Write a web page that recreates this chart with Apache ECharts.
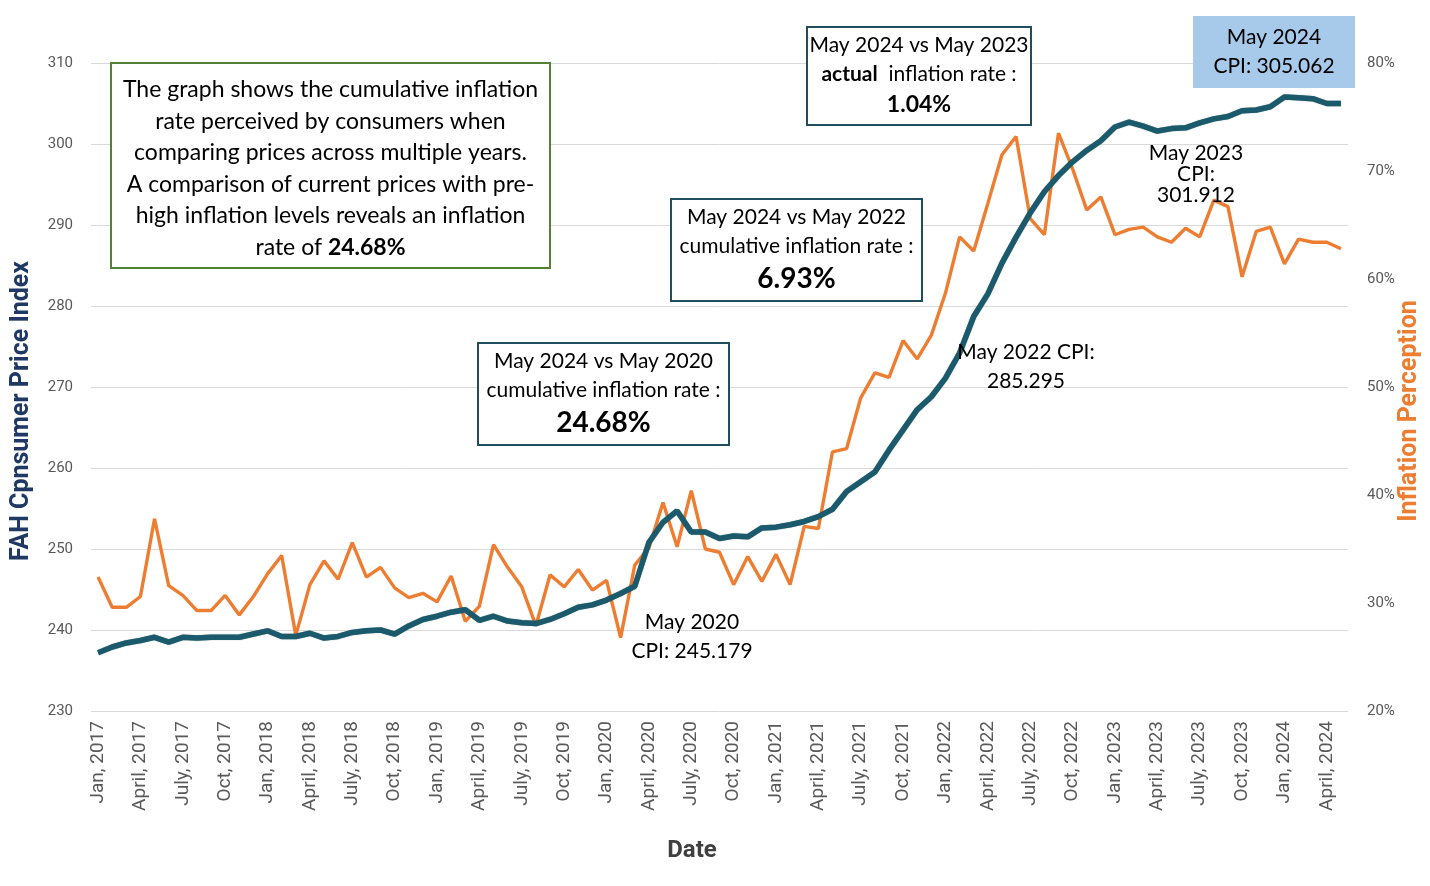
<!DOCTYPE html>
<html>
<head>
<meta charset="utf-8">
<script src="https://cdn.jsdelivr.net/npm/echarts@6/dist/echarts.min.js"></script>
<style>
  html, body { margin: 0; padding: 0; background: #fff; }
  #main { width: 1430px; height: 886px; }
</style>
</head>
<body>
<div id="main"></div>
<script>
// months shown on the axis, Jan 2017 .. May 2024
var monthNames = ['Jan', 'Feb', 'Mar', 'April', 'May', 'June', 'July', 'Aug', 'Sep', 'Oct', 'Nov', 'Dec'];
var startYear = 2017;
var monthCount = 89;

// FAH CPI (left axis)
var cpiValues = [
  237.2, 237.9, 238.4, 238.7, 239.1, 238.5, 239.1, 239.0, 239.1, 239.1, 239.1, 239.5,
  239.9, 239.2, 239.2, 239.6, 239.0, 239.2, 239.7, 239.9, 240.0, 239.5, 240.5, 241.3,
  241.7, 242.2, 242.5, 241.2, 241.7, 241.1, 240.9, 240.8, 241.3, 242.0, 242.8, 243.1,
  243.7, 244.5, 245.4, 250.8, 253.3, 254.7, 252.1, 252.1, 251.3, 251.6, 251.5, 252.6,
  252.7, 253.0, 253.4, 254.0, 254.9, 257.1, 258.3, 259.5, 262.2, 264.7, 267.2, 268.8,
  271.1, 274.2, 278.7, 281.5, 285.3, 288.5, 291.5, 294.1, 296.1, 297.8, 299.2, 300.4,
  302.1, 302.7, 302.2, 301.6, 301.9, 302.0, 302.6, 303.1, 303.4, 304.1, 304.2, 304.6,
  305.8, 305.7, 305.6, 305.0, 305.0
];

// inflation perception in % (right axis)
var perceptionValues = [
  32.4, 29.6, 29.6, 30.6, 37.8, 31.6, 30.7, 29.3, 29.3, 30.7, 28.9, 30.6,
  32.7, 34.4, 27.0, 31.7, 33.9, 32.2, 35.6, 32.4, 33.3, 31.4, 30.5, 30.9,
  30.1, 32.5, 28.3, 29.7, 35.4, 33.3, 31.5, 27.9, 32.6, 31.5, 33.1, 31.2,
  32.1, 26.8, 33.5, 35.1, 39.3, 35.2, 40.4, 35.0, 34.7, 31.7, 34.3, 32.0,
  34.5, 31.7, 37.1, 36.9, 44.0, 44.3, 49.0, 51.3, 50.9, 54.3, 52.6, 54.8,
  58.7, 63.9, 62.6, 67.0, 71.5, 73.2, 65.6, 64.1, 73.5, 70.2, 66.4, 67.6,
  64.1, 64.6, 64.8, 63.9, 63.4, 64.7, 63.9, 67.3, 66.7, 60.2, 64.4, 64.8,
  61.4, 63.7, 63.4, 63.4, 62.8
];

// axis ticks
var cpiTicks = { min: 230, max: 310, step: 10 };
var pctTicks = { min: 20, max: 80, step: 10 };

var categories = [];
for (var i = 0; i < monthCount; i++) {
  categories.push(monthNames[i % 12] + ', ' + (startYear + Math.floor(i / 12)));
}

var chart = echarts.init(document.getElementById('main'));

var txtFont = 'Lato, "Open Sans", sans-serif';
var axisFont = 'Roboto, sans-serif';

// bordered note box
function noteBox(x, y, w, h, stroke, fill, text, rich, dy) {
  return {
    type: 'group',
    left: x, top: y,
    z: 100,
    children: [
      {
        type: 'rect',
        z: 100,
        shape: { x: 0, y: 0, width: w, height: h },
        style: { fill: fill, stroke: stroke, lineWidth: stroke ? 2 : 0 }
      },
      {
        type: 'text',
        z: 101,
        x: w / 2, y: h / 2 + (dy || 0),
        style: {
          text: text,
          rich: rich,
          align: 'center',
          verticalAlign: 'middle',
          fill: '#000'
        }
      }
    ]
  };
}

// free text label
function note(x, y, text, rich) {
  return {
    type: 'text',
    z: 101,
    x: x, y: y,
    style: { text: text, rich: rich, align: 'center', verticalAlign: 'middle', fill: '#000' }
  };
}

var richBase = {
  n: { fontSize: 21, fontFamily: txtFont, lineHeight: 29, fill: '#000' },
  b: { fontSize: 21, fontFamily: txtFont, fontWeight: 'bold', lineHeight: 29, fill: '#000' },
  m: { fontSize: 23, fontFamily: txtFont, fontWeight: 'bold', lineHeight: 32, fill: '#000' },
  big: { fontSize: 28, fontFamily: txtFont, fontWeight: 'bold', lineHeight: 36, fill: '#000' }
};

var richIntro = {
  n: { fontSize: 23, fontFamily: txtFont, lineHeight: 31.5, fill: '#000' },
  b: { fontSize: 23, fontFamily: txtFont, fontWeight: 'bold', lineHeight: 31.5, fill: '#000' }
};

var plainRich = {
  n: { fontSize: 21, fontFamily: txtFont, lineHeight: 29, fill: '#000' },
  t: { fontSize: 21, fontFamily: txtFont, lineHeight: 21, fill: '#000' }
};

var option = {
  animation: false,
  backgroundColor: '#fff',
  grid: { left: 91, right: 82, top: 63, bottom: 175 },
  xAxis: {
    type: 'category',
    data: categories,
    boundaryGap: true,
    axisLine: { show: false },
    axisTick: { show: false },
    axisLabel: {
      interval: 2,
      rotate: 90,
      fontSize: 19,
      color: '#595959',
      fontFamily: axisFont,
      margin: 10
    },
    splitLine: { show: false }
  },
  yAxis: [
    {
      type: 'value',
      min: cpiTicks.min, max: cpiTicks.max, interval: cpiTicks.step,
      axisLine: { show: false },
      axisTick: { show: false },
      axisLabel: { fontSize: 15, color: '#595959', margin: 18, fontFamily: axisFont },
      splitLine: { lineStyle: { color: '#d9d9d9', width: 1 } }
    },
    {
      type: 'value',
      position: 'right',
      min: pctTicks.min, max: pctTicks.max, interval: pctTicks.step,
      axisLine: { show: false },
      axisTick: { show: false },
      axisLabel: { fontSize: 15, color: '#595959', margin: 19, formatter: '{value}%', fontFamily: axisFont },
      splitLine: { show: false }
    }
  ],
  series: [
    {
      name: 'FAH CPI',
      type: 'line',
      yAxisIndex: 0,
      data: cpiValues,
      symbol: 'none',
      z: 3,
      lineStyle: { color: '#1b5a6c', width: 5.5, shadowColor: 'rgba(20,70,50,0.6)', shadowBlur: 1 }
    },
    {
      name: 'Inflation Perception',
      type: 'line',
      yAxisIndex: 1,
      data: perceptionValues,
      symbol: 'none',
      z: 2,
      lineStyle: { color: '#ed7d31', width: 3.4 }
    }
  ],
  graphic: [
    {
      type: 'text', z: 101, x: 22, y: 411, rotation: Math.PI / 2,
      style: {
        text: 'FAH Cpnsumer Price Index', align: 'center', verticalAlign: 'middle',
        font: 'bold 25px ' + axisFont, fill: '#1f3864'
      }
    },
    {
      type: 'text', z: 101, x: 1410, y: 411, rotation: Math.PI / 2,
      style: {
        text: 'Inflation Perception', align: 'center', verticalAlign: 'middle',
        font: 'bold 25px ' + axisFont, fill: '#ed7d31'
      }
    },
    {
      type: 'text', z: 101, x: 692, y: 851,
      style: {
        text: 'Date', align: 'center', verticalAlign: 'middle',
        font: 'bold 24px ' + axisFont, fill: '#404040'
      }
    },
    noteBox(110, 62, 439, 205, '#548235', '#fff',
      '{n|The graph shows the cumulative inflation}\n{n|rate perceived by consumers when}\n{n|comparing prices across multiple years.}\n{n|A comparison of current prices with pre-}\n{n|high inflation levels reveals an inflation}\n{n|rate of }{b|24.68%}',
      richIntro, 3),
    noteBox(477, 342, 251, 102, '#1f4e5f', '#fff',
      '{n|May 2024 vs May 2020}\n{n|cumulative inflation rate :}\n{big|24.68%}', richBase),
    noteBox(670, 198, 251, 102, '#1f4e5f', '#fff',
      '{n|May 2024 vs May 2022}\n{n|cumulative inflation rate :}\n{big|6.93%}', richBase),
    noteBox(806, 26, 224, 98, '#1f4e5f', '#fff',
      '{n|May 2024 vs May 2023}\n{b|actual}{n|  inflation rate :}\n{m|1.04%}', richBase),
    noteBox(1193, 16, 162, 72, null, '#a7c9ea',
      '{n|May 2024}\n{n|CPI: 305.062}', richBase),
    note(692, 637, '{n|May 2020}\n{n|CPI: 245.179}', plainRich),
    note(1026, 367, '{n|May 2022 CPI:}\n{n|285.295}', plainRich),
    note(1196, 174, '{t|May 2023}\n{t|CPI:}\n{t|301.912}', plainRich)
  ]
};

chart.setOption(option);
</script>
</body>
</html>
